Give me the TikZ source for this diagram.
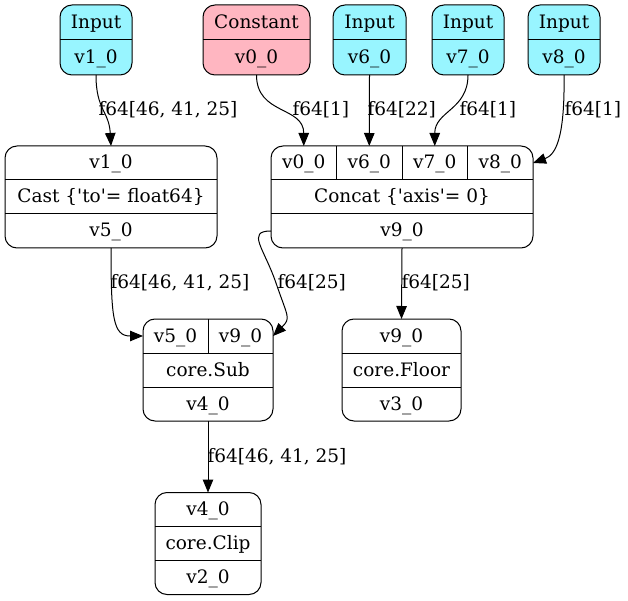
\documentclass[tikz,border=0pt]{standalone}
\usepackage{fontspec}
\setmainfont{DejaVu Serif}
\usetikzlibrary{arrows.meta,positioning}
\definecolor{inputcol}{HTML}{98F5FF}
\definecolor{constcol}{HTML}{FFB6C1}

\begin{document}
\begin{tikzpicture}
[
    x=1pt, y=-1pt, line width=1pt,
    font=\fontsize{18.5}{22}\selectfont,
    rec/.style={draw, rounded corners=12pt, inner sep=0pt, outer sep=0pt},
    cell/.style={inner sep=0pt, outer sep=0pt, minimum height=34pt, text height=14.5pt, text depth=2.5pt},
    link/.style={-{Triangle[length=13pt, width=10.5pt]}},
    lbl/.style={anchor=west, inner sep=0pt}
]
    \useasboundingbox (0,0) rectangle (628,601);

    % inputs and constant
    \node [rec, fill=inputcol, minimum width=72pt, minimum height=70pt] (in1) at (96,40) {};
    \node [cell, minimum width=72pt, minimum height=35pt, anchor=north] (in1-op) at (in1.north) {Input};
    \node [cell, minimum width=72pt, minimum height=35pt, below=0pt of in1-op] (in1-out) {v1\_0};
    \draw (in1-op.south west) -- (in1-op.south east);

    \node [rec, fill=constcol, minimum width=107pt, minimum height=70pt] (cst) at (256.5,40) {};
    \node [cell, minimum width=107pt, minimum height=35pt, anchor=north] (cst-op) at (cst.north) {Constant};
    \node [cell, minimum width=107pt, minimum height=35pt, below=0pt of cst-op] (cst-out) {v0\_0};
    \draw (cst-op.south west) -- (cst-op.south east);

    \node [rec, fill=inputcol, minimum width=73pt, minimum height=70pt] (in6) at (369.5,40) {};
    \node [cell, minimum width=73pt, minimum height=35pt, anchor=north] (in6-op) at (in6.north) {Input};
    \node [cell, minimum width=73pt, minimum height=35pt, below=0pt of in6-op] (in6-out) {v6\_0};
    \draw (in6-op.south west) -- (in6-op.south east);

    \node [rec, fill=inputcol, minimum width=72pt, minimum height=70pt] (in7) at (468,40) {};
    \node [cell, minimum width=72pt, minimum height=35pt, anchor=north] (in7-op) at (in7.north) {Input};
    \node [cell, minimum width=72pt, minimum height=35pt, below=0pt of in7-op] (in7-out) {v7\_0};
    \draw (in7-op.south west) -- (in7-op.south east);

    \node [rec, fill=inputcol, minimum width=72pt, minimum height=70pt] (in8) at (564,40) {};
    \node [cell, minimum width=72pt, minimum height=35pt, anchor=north] (in8-op) at (in8.north) {Input};
    \node [cell, minimum width=72pt, minimum height=35pt, below=0pt of in8-op] (in8-out) {v8\_0};
    \draw (in8-op.south west) -- (in8-op.south east);

    % cast
    \node [rec, minimum width=212pt, minimum height=102pt] (cast) at (111,197) {};
    \node [cell, minimum width=212pt, anchor=north] (cast-in) at (cast.north) {v1\_0};
    \node [cell, minimum width=212pt, below=0pt of cast-in] (cast-op) {Cast \{\textquotesingle to\textquotesingle= float64\}};
    \node [cell, minimum width=212pt, below=0pt of cast-op] (cast-out) {v5\_0};
    \draw (cast-in.south west) -- (cast-in.south east);
    \draw (cast-op.south west) -- (cast-op.south east);

    % concat
    \node [rec, minimum width=262pt, minimum height=102pt] (cc) at (402,197) {};
    \node [cell, minimum width=65.5pt, anchor=north west] (cc-v0) at (cc.north west) {v0\_0};
    \node [cell, minimum width=65.5pt, right=0pt of cc-v0] (cc-v6) {v6\_0};
    \node [cell, minimum width=65.5pt, right=0pt of cc-v6] (cc-v7) {v7\_0};
    \node [cell, minimum width=65.5pt, right=0pt of cc-v7] (cc-v8) {v8\_0};
    \node [cell, minimum width=262pt, anchor=north] (cc-op) at (cc.north |- cc-v0.south) {Concat \{\textquotesingle axis\textquotesingle= 0\}};
    \node [cell, minimum width=262pt, below=0pt of cc-op] (cc-out) {v9\_0};
    \draw (cc-v0.south west) -- (cc-v8.south east);
    \draw (cc-op.south west) -- (cc-op.south east);
    \draw (cc-v0.north east) -- (cc-v0.south east);
    \draw (cc-v6.north east) -- (cc-v6.south east);
    \draw (cc-v7.north east) -- (cc-v7.south east);

    % sub
    \node [rec, minimum width=130pt, minimum height=102pt] (sub) at (208,370) {};
    \node [cell, minimum width=65pt, anchor=north west] (sub-v5) at (sub.north west) {v5\_0};
    \node [cell, minimum width=65pt, right=0pt of sub-v5] (sub-v9) {v9\_0};
    \node [cell, minimum width=130pt, anchor=north] (sub-op) at (sub.north |- sub-v5.south) {core.Sub};
    \node [cell, minimum width=130pt, below=0pt of sub-op] (sub-out) {v4\_0};
    \draw (sub-v5.south west) -- (sub-v9.south east);
    \draw (sub-op.south west) -- (sub-op.south east);
    \draw (sub-v5.north east) -- (sub-v5.south east);

    % floor
    \node [rec, minimum width=119pt, minimum height=102pt] (fl) at (401.5,370) {};
    \node [cell, minimum width=119pt, anchor=north] (fl-in) at (fl.north) {v9\_0};
    \node [cell, minimum width=119pt, below=0pt of fl-in] (fl-op) {core.Floor};
    \node [cell, minimum width=119pt, below=0pt of fl-op] (fl-out) {v3\_0};
    \draw (fl-in.south west) -- (fl-in.south east);
    \draw (fl-op.south west) -- (fl-op.south east);

    % clip
    \node [rec, minimum width=106pt, minimum height=102pt] (clip) at (208,543.5) {};
    \node [cell, minimum width=106pt, anchor=north] (clip-in) at (clip.north) {v4\_0};
    \node [cell, minimum width=106pt, below=0pt of clip-in] (clip-op) {core.Clip};
    \node [cell, minimum width=106pt, below=0pt of clip-op] (clip-out) {v2\_0};
    \draw (clip-in.south west) -- (clip-in.south east);
    \draw (clip-op.south west) -- (clip-op.south east);

    % edges
    \draw [link] (in1-out.south) .. controls +(0,35) and +(-2,-35) .. (cast-in.north);
    \draw [link] (cst-out.south) .. controls +(0,40) and +(0,-40) .. (cc-v0.north);
    \draw [link] (in6-out.south) -- (cc-v6.north);
    \draw [link] (in7-out.south) .. controls +(0,35) and +(0,-35) .. (cc-v7.north);
    \draw [link] (in8-out.south) .. controls +(1,65) and +(22,-8) .. (cc-v8.east);
    \draw [link] (cast-out.south) .. controls +(0,70) and +(-30,0) .. (sub-v5.west);
    \draw [link] (cc-out.west) .. controls +(-25,0) and +(-12,-35) .. (276,283)
        .. controls +(12,35) and +(18,-18) .. (sub-v9.east);
    \draw [link] (cc-out.south) -- (fl-in.north);
    \draw [link] (sub-out.south) -- (clip-in.north);

    % edge labels
    \node [lbl] (l-in1) at (98,110) {f64[46, 41, 25]};
    \node [lbl] (l-cst) at (292,110) {f64[1]};
    \node [lbl] (l-in6) at (367,110) {f64[22]};
    \node [lbl] (l-in7) at (459,110) {f64[1]};
    \node [lbl] (l-in8) at (564,110) {f64[1]};
    \node [lbl] (l-cast) at (110,283) {f64[46, 41, 25]};
    \node [lbl] (l-cc) at (277,283) {f64[25]};
    \node [lbl] (l-fl) at (401,283) {f64[25]};
    \node [lbl] (l-sub) at (207,457) {f64[46, 41, 25]};
\end{tikzpicture}
\end{document}
